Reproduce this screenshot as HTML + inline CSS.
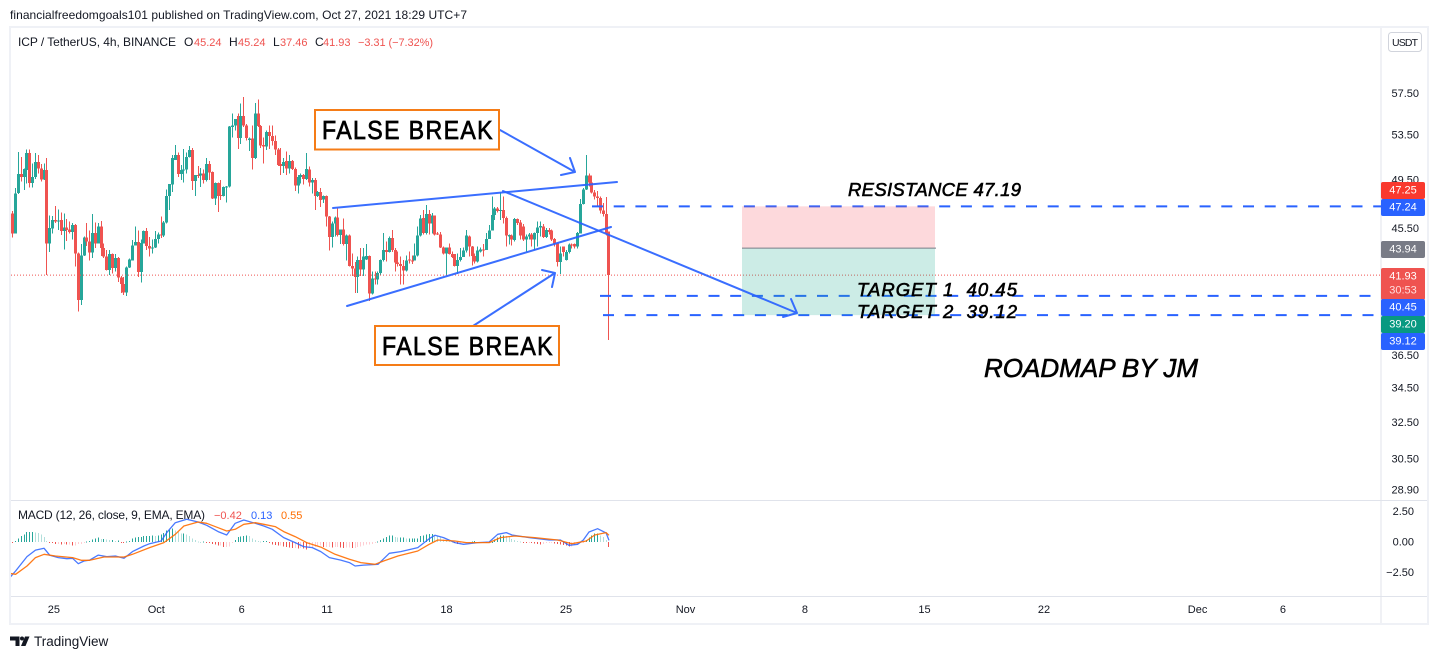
<!DOCTYPE html>
<html lang="en">
<head>
<meta charset="utf-8">
<title>ICP / TetherUS 4h chart</title>
<style>
html,body{margin:0;padding:0;background:#fff;width:1439px;height:659px;overflow:hidden}
svg{display:block;font-family:"Liberation Sans",sans-serif}
text{fill:#131722;font-size:11px}
.tag{fill:#fff;font-size:11px;text-anchor:middle;dominant-baseline:central}
.hand{fill:#000;font-style:italic;stroke:#000;stroke-width:.6px}
.fb{fill:#000;font-size:25.5px;stroke:#000;stroke-width:.7px;letter-spacing:1.5px}
.draw{fill:none;stroke:#2962ff;stroke-width:2;stroke-linecap:round;stroke-linejoin:round;opacity:.92}
</style>
</head>
<body>
<svg id="chart" width="1439" height="659" viewBox="0 0 1439 659" xmlns="http://www.w3.org/2000/svg">
  <defs>
    <clipPath id="main-clip"><rect x="11" y="28" width="1370" height="472"/></clipPath>
    <clipPath id="macd-clip"><rect x="11" y="501" width="1370" height="95"/></clipPath>
  </defs>

  <text x="10" y="19" textLength="457" style="font-size:12px">financialfreedomgoals101 published on TradingView.com, Oct 27, 2021 18:29 UTC+7</text>

  <rect x="10" y="27" width="1418" height="597" fill="#fff" stroke="#eff1f6" stroke-width="2"/>
  <line x1="1381" y1="28" x2="1381" y2="623" stroke="#e0e3eb"/>
  <line x1="11" y1="500.5" x2="1427" y2="500.5" stroke="#e0e3eb"/>
  <line x1="11" y1="596.5" x2="1427" y2="596.5" stroke="#e0e3eb"/>

  <g>
    <text x="18" y="46" textLength="158" style="font-size:12px">ICP / TetherUS, 4h, BINANCE</text>
    <text x="184" y="46" style="font-size:12px">O</text>
    <text x="194" y="46" style="fill:#ef5350">45.24</text>
    <text x="229" y="46" style="font-size:12px">H</text>
    <text x="238" y="46" style="fill:#ef5350">45.24</text>
    <text x="273" y="46" style="font-size:12px">L</text>
    <text x="280" y="46" style="fill:#ef5350">37.46</text>
    <text x="315" y="46" style="font-size:12px">C</text>
    <text x="323" y="46" style="fill:#ef5350">41.93</text>
    <text x="358" y="46" textLength="75" style="fill:#ef5350">−3.31 (−7.32%)</text>
  </g>

  <g id="candles" clip-path="url(#main-clip)" shape-rendering="crispEdges"></g>

  <g id="hlines" clip-path="url(#main-clip)"></g>

  <g>
    <rect id="pos-risk" x="742" width="193" fill="#f7525f" fill-opacity=".22"/>
    <rect id="pos-reward" x="742" width="193" fill="#22ab94" fill-opacity=".23"/>
    <line id="pos-entry" x1="742" x2="936" stroke="#787b86"/>
  </g>

  <g>
    <line class="draw" x1="333" y1="208" x2="617" y2="182"/>
    <line class="draw" x1="347" y1="306" x2="611" y2="227"/>
    <path class="draw" d="M503 191L797 313M791 299L797 313L783 317"/>
    <path class="draw" d="M500 130L575 172M570 158L575 172L561 175"/>
    <path class="draw" d="M473 326L555 273M542 270L555 273L552 287"/>
  </g>

  <g>
    <rect x="315" y="110" width="184" height="39.5" fill="#fff" stroke="#f57c17" stroke-width="2"/>
    <text class="fb" x="322" y="139" textLength="172" lengthAdjust="spacingAndGlyphs">FALSE BREAK</text>
  </g>
  <g>
    <rect x="375" y="326" width="184" height="39" fill="#fff" stroke="#f57c17" stroke-width="2"/>
    <text class="fb" x="382" y="355" textLength="172" lengthAdjust="spacingAndGlyphs">FALSE BREAK</text>
  </g>

  <text class="hand" x="848" y="196" textLength="173" style="font-size:18.5px">RESISTANCE 47.19</text>
  <text class="hand" x="857" y="296" textLength="160" style="font-size:18.5px">TARGET 1&#160;&#160;40.45</text>
  <text class="hand" x="857" y="318" textLength="160" style="font-size:18.5px">TARGET 2&#160;&#160;39.12</text>
  <text class="hand" x="984" y="377" textLength="214" style="font-size:26px">ROADMAP BY JM</text>

  <g id="macd-hist" clip-path="url(#macd-clip)" shape-rendering="crispEdges"></g>
  <g id="macd-lines" clip-path="url(#macd-clip)"></g>
  <g>
    <text x="18" y="519" textLength="187" style="font-size:12px">MACD (12, 26, close, 9, EMA, EMA)</text>
    <text x="214" y="519" style="fill:#ef5350">−0.42</text>
    <text x="251" y="519" style="fill:#2962ff">0.13</text>
    <text x="281" y="519" style="fill:#ff6d00">0.55</text>
  </g>

  <g id="price-axis"></g>
  <g id="macd-axis"></g>
  <g id="time-axis"></g>

  <g>
    <rect x="1381" y="182" width="44" height="17" rx="2" fill="#f9392e"/>
    <text class="tag" x="1403" y="190.5">47.25</text>
    <rect x="1381" y="199" width="44" height="17" rx="2" fill="#2962ff"/>
    <text class="tag" x="1403" y="207.5">47.24</text>
    <rect x="1381" y="241" width="44" height="17" rx="2" fill="#787b86"/>
    <text class="tag" x="1403" y="249.5">43.94</text>
    <rect x="1381" y="268" width="44" height="32" rx="2" fill="#ef5350"/>
    <text class="tag" x="1403" y="276.5">41.93</text>
    <text class="tag" x="1403" y="290.5" style="fill:#fdd">30:53</text>
    <rect x="1381" y="299" width="44" height="17" rx="2" fill="#2962ff"/>
    <text class="tag" x="1403" y="307.5">40.45</text>
    <rect x="1381" y="316" width="44" height="17" rx="2" fill="#089981"/>
    <text class="tag" x="1403" y="324.5">39.20</text>
    <rect x="1381" y="333" width="44" height="17" rx="2" fill="#2962ff"/>
    <text class="tag" x="1403" y="341.5">39.12</text>
  </g>

  <g>
    <rect x="1388.5" y="32.5" width="33" height="19" rx="3" fill="#fff" stroke="#d1d4dc"/>
    <text x="1392" y="46" textLength="26" style="font-size:10.5px">USDT</text>
  </g>

  <g>
    <path d="M10 636.5h9.5v9.5h-4v-5.5h-5.5z" fill="#131722"/>
    <circle cx="22" cy="638.5" r="2" fill="#131722"/>
    <path d="M25 636.5h4.5l-4 9.5h-4.5z" fill="#131722"/>
    <text x="34" y="646" style="font-size:13.5px">TradingView</text>
  </g>
</svg>

<script>
var opens = [
46.67,45.08,48.35,49.95,49.7,50.3,51.8,49.2,49.7,51.0,
50.45,49.5,50.3,44.3,45.45,46.15,46.0,46.15,45.25,45.55,
45.4,45.2,45.75,43.55,40.15,43.4,44.75,44.45,43.6,45.1,
44.3,45.6,43.95,43.3,42.3,43.5,42.45,43.2,41.75,41.3,
40.7,42.5,43.0,44.15,44.4,42.15,44.3,45.25,44.1,43.9,
44.0,44.65,45.0,44.9,45.95,48.1,49.05,51.2,51.65,49.95,
50.3,50.35,51.45,52.1,49.35,49.9,49.85,50.0,49.45,50.85,
50.15,47.9,49.2,48.18,48.1,48.85,48.9,54.2,54.35,55.25,
53.2,55.25,54.35,53.0,53.15,51.35,55.5,54.3,52.55,52.4,
53.75,53.35,52.9,52.15,50.85,50.65,51.1,50.45,51.1,50.4,
49.0,49.7,49.9,49.55,50.35,49.25,49.45,48.1,48.45,
47.8,48.1,46.4,44.8,45.85,46.35,44.95,45.4,44.25,44.9,
42.6,42.4,41.8,43.05,42.35,43.1,43.35,40.6,41.7,41.6,
42.1,43.05,43.8,43.65,44.7,43.8,42.85,42.75,42.6,42.25,
43.1,43.0,43.0,43.4,44.9,46.3,45.1,46.6,45.85,46.5,
45.05,45.0,44.0,43.55,44.0,43.5,43.5,42.6,43.05,43.25,
43.75,44.85,44.05,43.35,42.95,43.7,43.85,43.8,44.65,
45.3,46.55,47.05,46.85,46.95,46.3,44.85,44.9,44.55,
46.2,45.95,45.6,44.6,44.85,45.0,44.6,45.1,45.55,45.6,
44.8,45.35,45.3,44.65,44.3,42.9,44.05,43.05,43.65,44.2,
44.25,44.05,45.05,47.45,48.65,49.85,49.25,48.4,48.05,47.95,
46.9,46.6,45.24];
var highs = [
46.85,48.75,51.9,51.45,50.45,52.15,52.15,50.9,51.8,51.65,
50.85,50.9,51.35,46.5,46.45,47.25,47.0,46.75,46.67,46.2,
46.0,45.9,45.8,43.6,44.25,44.85,45.9,45.3,46.6,45.95,
45.9,46.05,44.3,43.8,43.8,43.55,43.5,43.25,41.85,41.8,
42.55,43.15,44.55,45.6,45.3,44.6,45.3,45.5,44.8,44.6,
45.25,45.15,46.4,46.05,48.65,49.1,51.65,52.55,51.85,50.75,
52.2,51.85,52.45,52.25,49.9,50.65,50.5,50.35,51.35,51.1,
50.2,49.25,49.25,49.45,48.9,48.95,54.3,55.5,54.95,55.5,
56.45,57.1,54.5,53.25,54.35,56.5,56.85,54.4,53.25,53.9,
54.35,54.35,53.4,52.25,52.25,51.35,51.95,51.65,51.2,50.55,
49.9,50.0,49.95,51.8,50.6,49.6,49.6,48.5,48.75,
48.15,48.15,46.45,46.0,46.4,47.05,45.4,46.25,45.0,45.0,
43.55,42.9,43.3,43.95,43.95,44.25,43.4,42.2,42.2,42.2,
43.1,45.1,44.45,44.85,45.35,43.95,43.7,43.3,43.05,43.4,
43.7,43.4,44.3,45.6,46.55,46.95,47.35,46.95,46.7,46.5,
45.2,45.2,44.05,44.0,44.3,43.7,43.5,43.55,43.95,44.0,
45.35,44.9,44.1,43.55,44.05,44.0,44.25,45.1,45.75,
48.05,47.2,47.2,48.4,48.05,46.4,45.0,45.0,46.3,
46.25,46.15,45.8,45.0,45.1,45.1,45.15,46.0,46.0,45.8,
45.5,45.5,45.4,44.7,44.3,44.05,44.05,43.8,44.3,44.3,
44.3,45.2,47.85,48.75,51.65,50.0,49.85,48.6,48.5,48.05,
47.5,48.0,45.24];
var lows = [
44.75,45.05,48.25,49.3,48.6,49.15,48.8,48.8,49.55,50.0,
49.3,49.45,41.95,43.65,45.05,45.9,45.35,44.95,43.85,44.5,
45.05,44.6,42.55,39.35,39.8,43.35,44.1,43.0,43.2,43.95,
44.3,43.35,43.2,42.25,41.95,42.05,42.2,41.45,40.65,40.5,
40.45,42.45,43.0,44.15,41.8,41.4,44.3,43.8,43.3,43.55,
43.95,44.3,44.7,44.8,45.85,46.95,48.45,51.2,49.7,49.45,
49.25,50.0,51.4,48.6,48.1,49.6,48.85,49.15,49.3,49.45,
47.85,47.35,46.8,47.75,48.05,47.55,48.8,53.25,53.9,52.2,
52.65,54.2,52.95,52.0,50.35,51.3,54.2,52.25,50.9,52.1,
52.2,52.5,51.65,50.65,49.9,50.05,49.9,50.0,50.3,48.5,
48.3,49.15,49.05,49.45,48.9,48.3,46.95,48.0,47.2,
47.5,45.6,43.75,44.0,44.85,44.85,44.25,44.15,43.0,42.55,
41.85,40.65,40.65,41.85,41.85,43.05,40.1,40.55,41.25,41.25,
41.9,42.95,42.95,43.6,43.65,42.2,42.55,41.25,41.25,42.2,
42.8,42.75,43.0,43.3,44.85,45.0,45.0,45.0,45.05,44.9,
44.95,43.95,43.45,41.95,43.45,43.2,42.55,42.0,42.95,43.25,
43.6,43.3,42.65,42.8,42.85,43.6,43.3,43.8,44.65,
45.3,46.15,46.75,46.15,45.85,44.05,44.2,44.15,44.45,
45.75,44.6,44.5,43.7,44.6,44.05,43.8,44.05,44.85,44.7,
44.7,45.0,44.5,44.05,42.55,42.0,43.3,43.0,43.55,43.9,
43.9,43.9,45.05,47.4,48.6,48.9,48.3,47.8,47.2,46.65,
46.4,44.9,37.46];
var closes = [
45.08,48.3,49.95,49.7,50.4,51.8,49.2,49.7,51.0,50.45,
49.5,50.3,44.3,45.5,46.15,46.0,46.1,45.25,45.55,45.35,
45.2,45.75,43.55,40.15,43.4,44.75,44.45,43.6,45.1,44.3,
45.6,43.95,43.3,42.3,43.5,42.45,43.2,41.75,41.3,40.7,
42.5,43.1,44.15,44.4,42.15,44.35,45.25,44.1,43.9,44.0,
44.65,45.0,44.9,45.95,48.1,49.1,51.35,51.65,49.95,50.3,
50.35,51.45,52.1,49.35,49.9,49.85,50.0,49.45,50.85,50.1,
47.9,49.2,48.1,48.1,48.85,48.9,54.25,54.35,54.95,53.2,
55.25,54.35,53.2,53.15,51.35,55.5,54.3,52.5,52.4,53.75,
53.35,52.9,52.15,50.75,50.65,51.0,50.45,51.1,50.4,49.0,
49.7,49.9,49.55,50.4,49.25,49.45,48.1,48.45,47.75,
48.1,46.4,44.8,45.85,46.35,44.95,45.4,44.25,44.9,42.6,
42.4,41.8,43.05,42.35,43.3,43.35,40.6,41.7,41.6,42.1,
43.05,43.8,43.65,44.7,43.8,42.85,42.75,42.6,42.25,43.0,
43.0,42.98,43.4,44.9,46.25,45.1,46.6,45.85,46.5,45.0,
45.0,44.0,43.55,44.0,43.5,43.25,42.6,43.05,43.25,43.75,
44.9,44.05,43.35,42.95,43.75,43.85,43.8,44.65,45.3,
46.55,47.05,46.85,46.95,46.3,44.9,44.95,44.6,46.2,
45.9,44.9,44.6,44.85,45.0,44.6,45.1,45.55,45.65,44.8,
45.35,45.2,44.6,44.3,42.9,43.55,43.65,43.65,44.2,44.15,
44.05,45.1,47.45,48.65,49.85,49.25,48.4,48.05,47.95,46.9,
46.6,45.05,41.93];

var histValues = [
-0.1,0.1,0.3,0.5,0.6,0.8,0.82,0.82,0.78,0.74,0.6,0.4,0.1,
-0.05,-0.1,-0.15,-0.15,-0.2,-0.15,-0.2,-0.2,-0.3,-0.3,-0.15,-0.15,-0.05,
0.05,0.1,0.2,0.3,0.35,0.25,0.25,0.2,0.15,0.15,0.1,0.12,-0.05,-0.1,
0.05,0.1,0.3,0.35,0.4,0.4,0.5,0.5,0.5,0.55,0.5,0.55,0.6,0.75,0.95,1.0,1.1,
0.95,0.8,0.7,0.7,0.6,0.5,0.3,0.15,0.05,0.02,0.03,
-0.03,-0.1,-0.15,-0.2,-0.3,-0.3,-0.4,-0.4,-0.35,-0.1,
0.15,0.4,0.45,0.5,0.55,0.5,0.3,0.15,0.1,0.05,0.1,0.1,
-0.1,-0.2,-0.25,-0.3,-0.3,-0.35,-0.4,-0.45,-0.5,-0.5,-0.55,-0.5,-0.55,-0.6,-0.5,-0.45,-0.4,-0.35,-0.3,
-0.4,-0.4,-0.4,-0.45,-0.4,-0.4,-0.45,-0.5,-0.45,-0.45,-0.5,-0.5,-0.4,-0.35,-0.3,-0.2,-0.2,-0.15,-0.1,
0.05,0.15,0.3,0.4,0.55,0.55,0.4,0.35,0.35,0.35,0.3,0.3,0.3,0.3,0.3,0.5,0.55,0.6,0.65,0.65,0.55,0.5,0.35,0.2,0.15,0.1,0.05,
-0.05,-0.15,-0.1,-0.1,-0.1,-0.05,0.03,0.1,-0.03,-0.02,-0.02,-0.05,-0.05,0.02,
0.2,0.35,0.55,0.55,0.5,0.4,0.25,0.15,0.08,0.05,
-0.03,-0.05,-0.05,-0.1,-0.12,-0.15,-0.2,-0.15,-0.1,-0.1,-0.1,-0.12,-0.15,-0.2,-0.25,-0.3,-0.35,-0.35,-0.25,-0.2,-0.1,-0.05,
0.15,0.35,0.55,0.7,0.7,0.55,0.4,0.15,-0.42];

var macdCandles = [-1,1,5,8,11,13,16,19,21,23,25,27,30,33,36,39,42,46,48,52,54,57,61,65,68,72,75,78,81,85,88,91,95,99,102,105,108,111,115,118,120,123,128,132,136,142,146,148,151,155,158,163,167,170,173,175,181,188,192,195,198,200,202,205,208,209];
var macdValues = [-2.92,-2.38,-1.2,-0.66,-0.52,-1.09,-1.28,-1.37,-1.34,-1.78,-1.56,-1.48,-1.07,-1.2,-1.15,-1.34,-0.79,-0.33,-0.14,0.08,0.77,1.58,1.86,1.64,1.37,0.85,0.57,1.53,1.8,1.53,1.31,1.04,0.36,-0.05,-0.38,-0.46,-0.79,-1.28,-1.48,-1.69,-1.97,-1.89,-1.84,-0.93,-0.79,-0.46,0.27,0.55,0.36,-0.05,-0.19,-0.05,0,0.63,0.77,0.57,0.36,0.16,0.16,-0.27,-0.19,0.16,0.82,1.09,0.75,0.13];
var signalCandles = [-1,1,5,8,11,15,21,24,27,32,39,42,48,53,57,60,65,68,72,75,78,81,85,88,92,95,99,103,108,113,118,122,127,130,135,142,146,149,155,159,167,171,176,183,191,196,201,204,208,209];
var signalValues = [-2.57,-2.65,-1.97,-1.28,-1.01,-1.15,-1.28,-1.5,-1.5,-1.23,-1.23,-1.01,-0.46,-0.05,0.63,1.31,1.64,1.53,1.17,0.9,1.04,1.45,1.58,1.45,1.26,0.85,0.44,-0.05,-0.42,-1.01,-1.42,-1.69,-1.83,-1.56,-1.15,-0.74,-0.19,0.16,0.08,-0.05,-0.05,0.36,0.49,0.36,0.16,-0.14,0.08,0.57,0.77,0.55];

var priceTickLabels = ["57.50","53.50","49.50","45.50","36.50","34.50","32.50","30.50","28.90"];
var macdTickLabels = ["2.50","0.00","−2.50"];
var macdTickValues = [2.5,0,-2.5];
var timeLabels = ["25","Oct","6","11","18","25","Nov","8","15","22","Dec","6"];
var timeDays = [0,6,11,16,23,30,37,44,51,58,67,72];

var resistanceLevel = 47.24;
var target1Level = 40.45;
var target2Level = 39.12;
var lastPrice = 41.93;
var entryPrice = 43.94;

var UP = "#26a69a", DOWN = "#ef5350";
var NS = "http://www.w3.org/2000/svg";

function xAt(i){ return 12.7 + i * 2.853; }
function xDay(d){ return 53.9 + d * 17.07; }
function yPrice(p){ return 228 + 576.7 * (Math.log(45.5) - Math.log(p)); }
function yMacd(v){ return 542 - 12.2 * v; }
function make(tag, parent, attrs){
  var el = document.createElementNS(NS, tag);
  for (var k in attrs) el.setAttribute(k, attrs[k]);
  parent.appendChild(el);
  return el;
}

var candleLayer = document.getElementById("candles");
for (var i = 0; i < opens.length; i++) {
  var isUp = closes[i] >= opens[i];
  var col = isUp ? UP : DOWN;
  var cx = Math.floor(xAt(i));
  var group = make("g", candleLayer, {});
  
  
  var wick = make("rect", group, {x: cx, y: yPrice(highs[i]), width: 1, height: Math.max(1, yPrice(lows[i]) - yPrice(highs[i])), fill: col});
  
  
  var bodyTop = yPrice(Math.max(opens[i], closes[i]));
  var bodyBottom = yPrice(Math.min(opens[i], closes[i]));
  var body = make("rect", group, {x: cx - 1, y: bodyTop, width: 3, height: Math.max(1, bodyBottom - bodyTop), fill: col});
  
  
}

var hLayer = document.getElementById("hlines");
var lastLine = make("line", hLayer, {x1: 11, x2: 1381, y1: yPrice(lastPrice), y2: yPrice(lastPrice), stroke: "#ef5350", "stroke-width": 1, "stroke-dasharray": "1 2"});


var resLine = make("line", hLayer, {x1: 592, x2: 1381, y1: yPrice(resistanceLevel), y2: yPrice(resistanceLevel), stroke: "#2962ff", "stroke-width": 2, "stroke-dasharray": "11 10.7"});


var t1Line = make("line", hLayer, {x1: 600, x2: 1381, y1: yPrice(target1Level), y2: yPrice(target1Level), stroke: "#2962ff", "stroke-width": 2, "stroke-dasharray": "11 10.7"});


var t2Line = make("line", hLayer, {x1: 603, x2: 1381, y1: yPrice(target2Level), y2: yPrice(target2Level), stroke: "#2962ff", "stroke-width": 2, "stroke-dasharray": "11 10.7"});



var risk = document.getElementById("pos-risk");
risk.setAttribute("y", yPrice(resistanceLevel));
risk.setAttribute("height", yPrice(entryPrice) - yPrice(resistanceLevel));
var reward = document.getElementById("pos-reward");
reward.setAttribute("y", yPrice(entryPrice));
reward.setAttribute("height", yPrice(target2Level) - yPrice(entryPrice));
var entry = document.getElementById("pos-entry");
entry.setAttribute("y1", yPrice(entryPrice));
entry.setAttribute("y2", yPrice(entryPrice));

var histLayer = document.getElementById("macd-hist");
for (var h = 0; h < histValues.length; h++) {
  var v = histValues[h];
  var prev = h > 0 ? histValues[h - 1] : 0;
  var rising = v >= prev;
  var colr = v >= 0 ? (rising ? "#26a69a" : "#b2dfdb") : (rising ? "#ffcdd2" : "#ef5350");
  var y0 = yMacd(0), y1 = yMacd(v);
  var bar = make("rect", histLayer, {x: Math.floor(xAt(h)), y: Math.min(y0, y1), width: 1, height: Math.max(1, Math.abs(y1 - y0)), fill: colr});
  
  
}

function linePoints(cats, vals){
  var pts = [];
  for (var n = 0; n < cats.length; n++) pts.push(xAt(cats[n]).toFixed(1) + "," + yMacd(vals[n]).toFixed(1));
  return pts.join(" ");
}
var macdLayer = document.getElementById("macd-lines");
var macdLine = make("polyline", macdLayer, {points: linePoints(macdCandles, macdValues), fill: "none", stroke: "#2962ff", "stroke-width": 1.3, "stroke-linejoin": "round", opacity: 0.85});


var signalLine = make("polyline", macdLayer, {points: linePoints(signalCandles, signalValues), fill: "none", stroke: "#ff6d00", "stroke-width": 1.3, "stroke-linejoin": "round", opacity: 0.9});



var priceAxis = document.getElementById("price-axis");
priceTickLabels.forEach(function(lbl){
  var t = make("text", priceAxis, {x: 1419, y: yPrice(parseFloat(lbl)) + 4, "text-anchor": "end"});
  t.textContent = lbl;
  
  
});
var macdAxis = document.getElementById("macd-axis");
macdTickLabels.forEach(function(lbl, k){
  var t = make("text", macdAxis, {x: 1414, y: yMacd(macdTickValues[k]) + 3.5, "text-anchor": "end"});
  t.textContent = lbl;
  
  
});
var timeAxis = document.getElementById("time-axis");
timeLabels.forEach(function(lbl, k){
  var t = make("text", timeAxis, {x: xDay(timeDays[k]), y: 613, "text-anchor": "middle"});
  t.textContent = lbl;
  
  
});
</script>
</body>
</html>
